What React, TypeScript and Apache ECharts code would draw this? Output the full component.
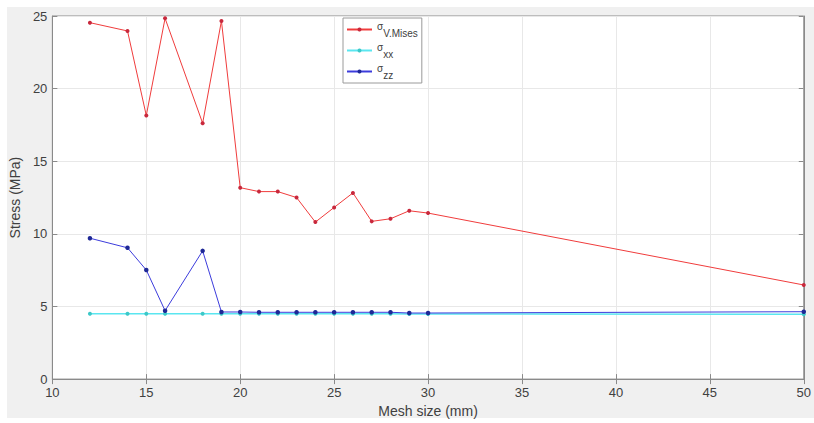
import React, { useEffect, useRef } from "react";
import * as echarts from "echarts";

const meshSizes = [12, 14, 15, 16, 18, 19, 20, 21, 22, 23, 24, 25, 26, 27, 28, 29, 30, 50];
const vonMises = [24.54, 23.97, 18.15, 24.84, 17.62, 24.66, 13.18, 12.91, 12.91, 12.5, 10.81, 11.82, 12.82, 10.86, 11.04, 11.59, 11.43, 6.48];
const sigmaXX = [4.5, 4.5, 4.5, 4.5, 4.5, 4.5, 4.5, 4.5, 4.5, 4.5, 4.5, 4.5, 4.5, 4.5, 4.5, 4.48, 4.48, 4.46];
const sigmaZZ = [9.7, 9.04, 7.51, 4.71, 8.83, 4.62, 4.62, 4.6, 4.6, 4.6, 4.6, 4.6, 4.6, 4.6, 4.6, 4.55, 4.55, 4.64];
const seriesNames = ["σV.Mises", "σxx", "σzz"];
const legendSubs: Record<string, string> = { "σV.Mises": "V.Mises", "σxx": "xx", "σzz": "zz" };

const pair = (ys: number[]) => meshSizes.map((x, i) => [x, ys[i]]);

export default function App() {
  const ref = useRef<HTMLDivElement>(null);
  useEffect(() => {
    const chart = echarts.init(ref.current!, null, { renderer: "svg" });
    const font = "'Liberation Sans', Arial, Helvetica, sans-serif";
    const axisColor = "#8a8a8a";
    const textColor = "#404040";
    chart.setOption({
      animation: false,
      backgroundColor: "#f0f0f0",
      textStyle: { fontFamily: font },
      graphic: [
        { type: "rect", shape: { x: 0, y: 0, width: 814, height: 7 }, style: { fill: "#ffffff" }, silent: true },
        { type: "rect", shape: { x: 0, y: 0, width: 7, height: 423 }, style: { fill: "#ffffff" }, silent: true },
        { type: "rect", shape: { x: 0, y: 418, width: 814, height: 5 }, style: { fill: "#ffffff" }, silent: true },
      ],
      grid: {
        left: 51,
        top: 16,
        width: 760,
        height: 366,
        show: true,
        backgroundColor: "#ffffff",
        borderColor: axisColor,
        borderWidth: 1,
      },
      legend: {
        data: seriesNames,
        orient: "vertical",
        left: 343,
        top: 18,
        backgroundColor: "#ffffff",
        borderColor: "#9a9a9a",
        borderWidth: 1,
        padding: [3, 4, 3, 3],
        itemWidth: 25,
        itemHeight: 5,
        itemGap: 4,
        formatter: (name: string) => `{s|σ}{b|${legendSubs[name]}}`,
        textStyle: {
          color: "#404040",
          rich: {
            s: { fontSize: 10, fontFamily: font, color: "#404040", lineHeight: 10, padding: [0, 0, 7, 0] },
            b: { fontSize: 10, fontFamily: font, color: "#404040", lineHeight: 10, padding: [7, 0, 0, 0] },
          },
        },
      },
      xAxis: [
        {
          type: "value",
          min: 10,
          max: 50,
          interval: 5,
          name: "Mesh size (mm)",
          nameLocation: "middle",
          nameGap: 21,
          nameTextStyle: { fontSize: 14, color: textColor, fontFamily: font },
          axisLine: { show: true, lineStyle: { color: axisColor } },
          axisTick: { show: true, inside: true, length: 5, lineStyle: { color: axisColor } },
          axisLabel: { fontSize: 13, color: textColor, margin: 7, fontFamily: font },
          splitLine: { show: true, lineStyle: { color: "#e8e8e8" } },
        },
        {
          type: "value",
          position: "top",
          min: 10,
          max: 50,
          interval: 5,
          axisLine: { show: true, lineStyle: { color: axisColor } },
          axisTick: { show: true, inside: true, length: 5, lineStyle: { color: axisColor } },
          axisLabel: { show: false },
          splitLine: { show: false },
        },
      ],
      yAxis: [
        {
          type: "value",
          min: 0,
          max: 25,
          interval: 5,
          name: "Stress (MPa)",
          nameLocation: "middle",
          nameGap: 30,
          nameTextStyle: { fontSize: 14, color: textColor, fontFamily: font },
          axisLine: { show: true, lineStyle: { color: axisColor } },
          axisTick: { show: true, inside: true, length: 5, lineStyle: { color: axisColor } },
          axisLabel: { fontSize: 13, color: textColor, margin: 5, fontFamily: font },
          splitLine: { show: true, lineStyle: { color: "#e8e8e8" } },
        },
        {
          type: "value",
          position: "right",
          min: 0,
          max: 25,
          interval: 5,
          axisLine: { show: true, lineStyle: { color: axisColor } },
          axisTick: { show: true, inside: true, length: 5, lineStyle: { color: axisColor } },
          axisLabel: { show: false },
          splitLine: { show: false },
        },
      ],
      series: [
        {
          name: seriesNames[0],
          type: "line",
          data: pair(vonMises),
          symbol: "circle",
          symbolSize: 4,
          z: 3,
          lineStyle: { color: "#f03c3c", width: 1 },
          itemStyle: { color: "#c8283c", borderWidth: 0 },
          clip: false,
        },
        {
          name: seriesNames[1],
          type: "line",
          data: pair(sigmaXX),
          symbol: "circle",
          symbolSize: 4,
          z: 1,
          lineStyle: { color: "#5ae6f0", width: 1.5 },
          itemStyle: { color: "#3cc8c8", borderWidth: 0 },
          clip: false,
        },
        {
          name: seriesNames[2],
          type: "line",
          data: pair(sigmaZZ),
          symbol: "circle",
          symbolSize: 4.5,
          z: 2,
          lineStyle: { color: "#3c3cdc", width: 1 },
          itemStyle: { color: "#1e2896", borderWidth: 0 },
          clip: false,
        },
      ],
    });
    return () => chart.dispose();
  }, []);
  return (
    <div
      ref={ref}
      style={{ position: "fixed", left: 0, top: 0, width: 814, height: 423 }}
    />
  );
}
